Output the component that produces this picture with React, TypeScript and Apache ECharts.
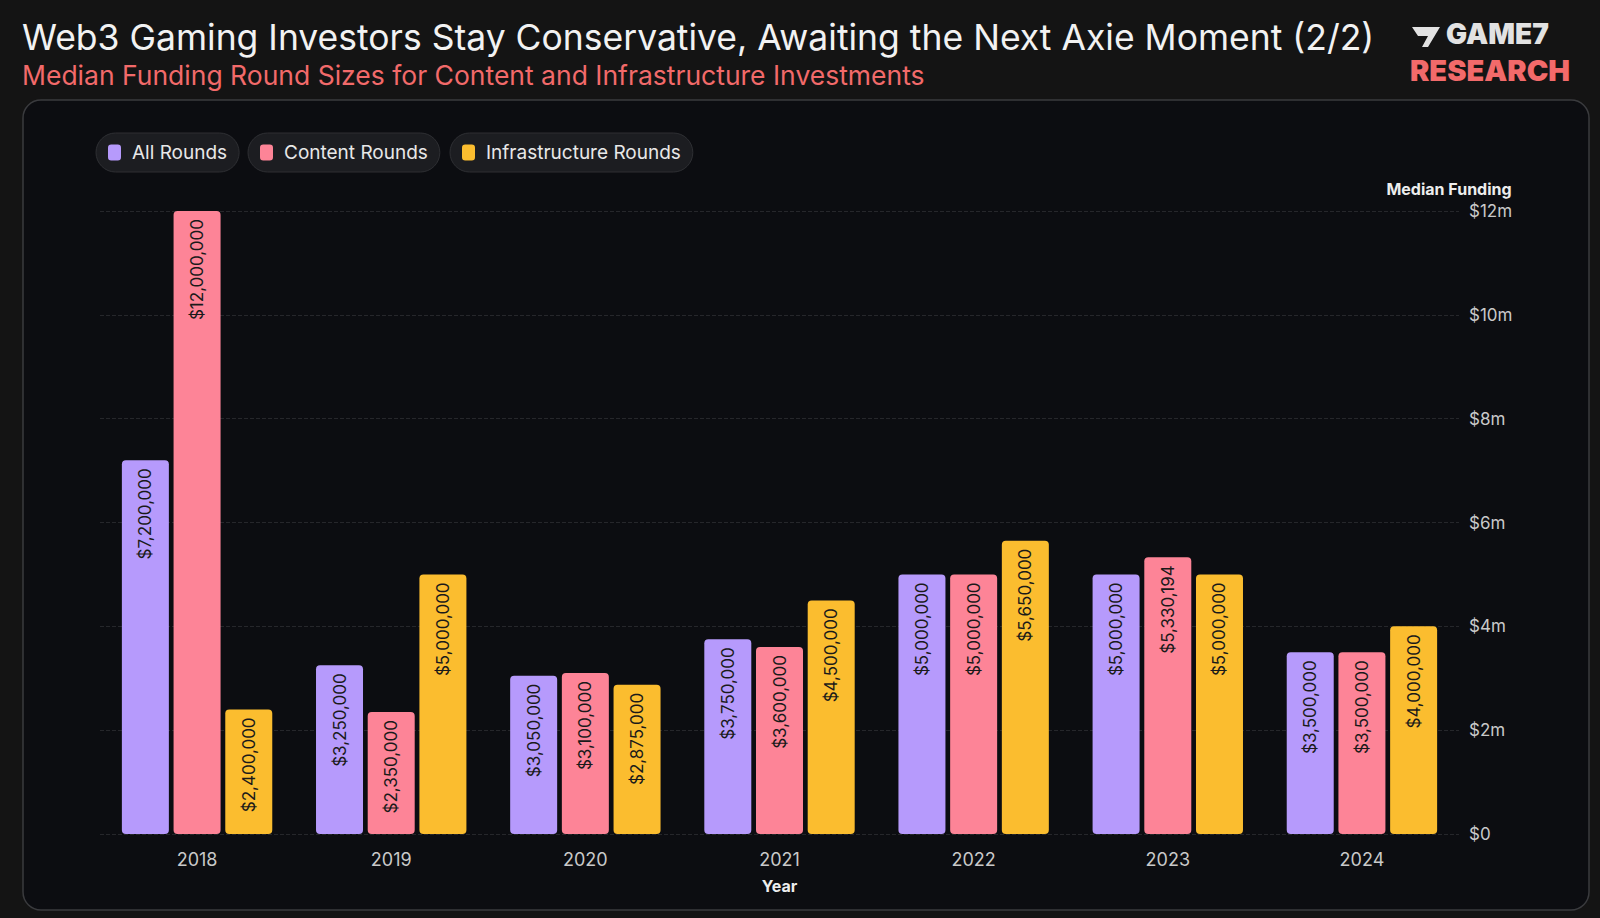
import React, { useEffect, useRef } from "react";
import * as echarts from "echarts";

const years = ["2018", "2019", "2020", "2021", "2022", "2023", "2024"];
const allRounds = [7200000, 3250000, 3050000, 3750000, 5000000, 5000000, 3500000];
const contentRounds = [12000000, 2350000, 3100000, 3600000, 5000000, 5330194, 3500000];
const infraRounds = [2400000, 5000000, 2875000, 4500000, 5650000, 5000000, 4000000];
const seriesNames = ["All Rounds", "Content Rounds", "Infrastructure Rounds"];
const colors = ["#b69afc", "#fd8497", "#fbbd2f"];

const fmt = (v: number) => "$" + v.toLocaleString("en-US");

const App: React.FC = () => {
  const ref = useRef<HTMLDivElement>(null);

  useEffect(() => {
    if (!ref.current) return;
    const chart = echarts.init(ref.current, undefined, { renderer: "svg" });
    const values = [allRounds, contentRounds, infraRounds];
    const legendLefts = [96, 248, 450];
    chart.setOption({
      animation: false,
      backgroundColor: "#141414",
      textStyle: { fontFamily: "Inter" },
      graphic: [
        {
          type: "rect",
          shape: { x: 23, y: 100, width: 1566, height: 810, r: 18 },
          style: { fill: "#0c0d11", stroke: "#3a3b3e", lineWidth: 1.5 },
          z: -10,
        },
        {
          type: "text",
          left: 22,
          top: 19,
          style: { text: "Web3 Gaming Investors Stay Conservative, Awaiting the Next Axie Moment (2/2)", fill: "#f2f2f2", font: "35.5px Inter" },
        },
        {
          type: "text",
          left: 22,
          top: 61,
          style: { text: "Median Funding Round Sizes for Content and Infrastructure Investments", fill: "#f26a6a", font: "26.5px Inter" },
        },
        {
          type: "polygon",
          shape: { points: [[1412, 27], [1440, 27], [1428, 47], [1422, 47], [1428, 36], [1418, 36]] },
          style: { fill: "#e2e2e2" },
        },
        {
          type: "text",
          left: 1446,
          top: 20,
          style: { text: "GAME7", fill: "#e2e2e2", font: "900 28px Inter" },
        },
        {
          type: "text",
          left: 1410,
          top: 56,
          style: { text: "RESEARCH", fill: "#f26a6a", font: "900 29px Inter" },
        },
      ],
      legend: seriesNames.map((n, i) => ({
        data: [n],
        left: legendLefts[i],
        top: 133,
        icon: "roundRect",
        itemWidth: 13,
        itemHeight: 16,
        padding: [10, 12, 10, 12],
        backgroundColor: "#1c1d21",
        borderColor: "#2e2f33",
        borderWidth: 1,
        borderRadius: 20,
        textStyle: { color: "#e8e8e8", fontSize: 19, fontFamily: "Inter", padding: [0, 0, 0, 6] },
        selectedMode: false,
      })),
      grid: { left: 100, right: 141, top: 211, bottom: 84 },
      xAxis: {
        type: "category",
        data: years,
        axisLine: { show: false },
        axisTick: { show: false },
        axisLabel: { color: "#c9c9c9", fontSize: 18, margin: 16 },
        name: "Year",
        nameLocation: "middle",
        nameGap: 44,
        nameTextStyle: { color: "#ededed", fontSize: 16, fontWeight: "bold" },
      },
      yAxis: {
        type: "value",
        position: "right",
        min: 0,
        max: 12000000,
        interval: 2000000,
        axisLabel: { color: "#c9c9c9", fontSize: 17, margin: 10, formatter: (v: number) => (v === 0 ? "$0" : `$${v / 1000000}m`) },
        splitLine: { lineStyle: { color: "#26272b", type: "dashed" } },
        name: "Median Funding",
        nameLocation: "end",
        nameGap: 14,
        nameTextStyle: { color: "#ededed", fontSize: 16, fontWeight: "bold", align: "center", padding: [0, 20, 0, 0] },
      },
      series: seriesNames.map((n, i) => ({
        name: n,
        type: "bar",
        data: values[i],
        barWidth: 47,
        barGap: "10%",
        itemStyle: { color: colors[i], borderRadius: 4 },
        label: {
          show: true,
          position: "insideTop",
          rotate: 90,
          align: "right",
          verticalAlign: "middle",
          distance: 8,
          color: "#1a1a1a",
          fontSize: 17,
          formatter: (p: any) => fmt(p.value),
        },
      })),
    });
    return () => chart.dispose();
  }, []);

  return <div ref={ref} style={{ position: "fixed", left: 0, top: 0, width: 1600, height: 918 }} />;
};

export default App;
